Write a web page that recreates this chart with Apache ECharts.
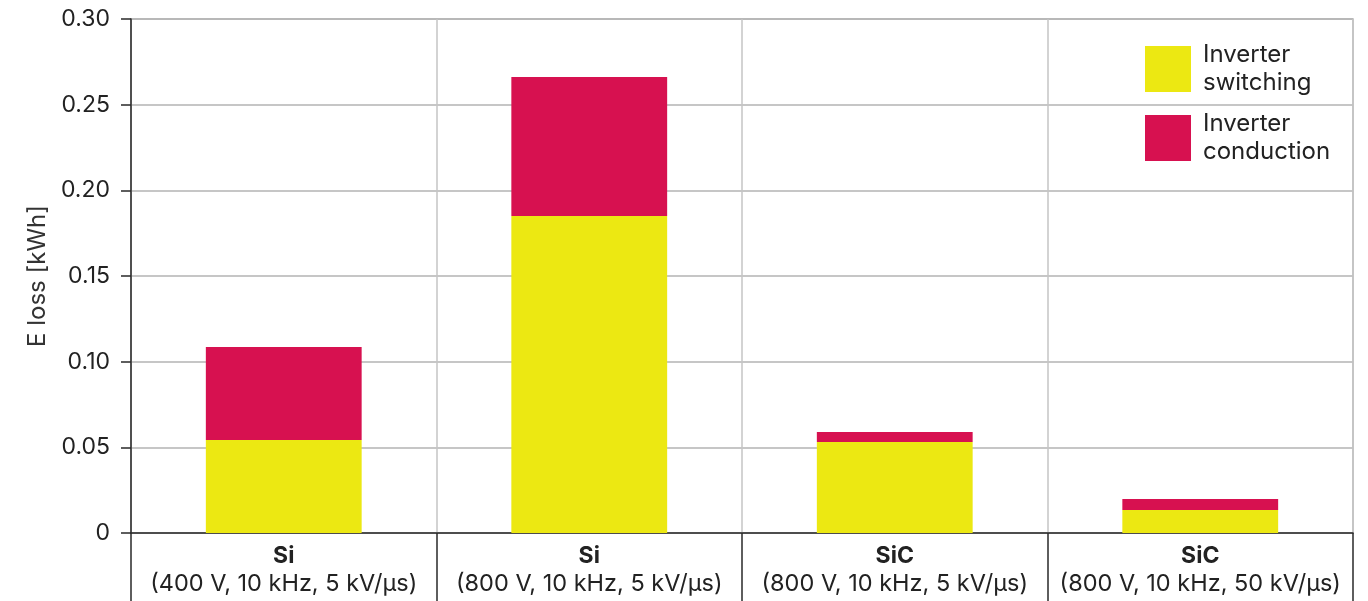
<!DOCTYPE html>
<html>
<head>
<meta charset="utf-8">
<script src="https://cdn.jsdelivr.net/npm/echarts@6/dist/echarts.min.js"></script>
<style>html,body{margin:0;padding:0;background:#fff}#c{width:1368px;height:601px}</style>
</head>
<body>
<div id="c"></div>
<script>
const categoryMain = ['Si', 'Si', 'SiC', 'SiC'];
const categorySub = ['(400 V, 10 kHz, 5 kV/µs)', '(800 V, 10 kHz, 5 kV/µs)', '(800 V, 10 kHz, 5 kV/µs)', '(800 V, 10 kHz, 50 kV/µs)'];
const switching = [0.0543, 0.185, 0.0531, 0.0134];
const conduction = [0.0543, 0.0812, 0.0059, 0.0064];
const seriesNames = ['Inverter\nswitching', 'Inverter\nconduction'];
const yTicks = ['0', '0.05', '0.10', '0.15', '0.20', '0.25', '0.30'];

const categories = categoryMain.map((m, i) => m + '|' + categorySub[i]);
const font = 'Inter, Liberation Sans, Arial, sans-serif';
const chart = echarts.init(document.getElementById('c'));
chart.setOption({
  animation: false,
  grid: { left: 131, right: 15, top: 19, bottom: 68, show: true, borderColor: '#b3b3b3', borderWidth: 1.5 },
  legend: {
    data: seriesNames,
    orient: 'vertical',
    left: 1145, top: 41, padding: 0,
    itemWidth: 46, itemHeight: 46, itemGap: 13,
    icon: 'rect',
    textStyle: { fontFamily: font, fontSize: 24, color: '#222', lineHeight: 28, padding: [0, 0, 0, 7] }
  },
  xAxis: {
    type: 'category',
    data: categories,
    axisLine: { lineStyle: { color: '#2a2a2a', width: 1.5 } },
    axisTick: { show: true, length: 75, lineStyle: { color: '#2a2a2a', width: 1.5 } },
    splitLine: { show: true, lineStyle: { color: '#c4c4c4', width: 1.5 } },
    axisLabel: {
      margin: 10,
      formatter: function (v) { const p = v.split('|'); return '{b|' + p[0] + '}\n{n|' + p[1] + '}'; },
      rich: {
        b: { fontFamily: font, fontSize: 23, fontWeight: 'bold', color: '#222', lineHeight: 27 },
        n: { fontFamily: font, fontSize: 23.5, color: '#222', lineHeight: 27 }
      }
    }
  },
  yAxis: {
    type: 'value',
    min: 0, max: 0.30, interval: 0.05,
    name: 'E loss [kWh]',
    nameLocation: 'middle',
    nameGap: 76,
    nameTextStyle: { fontFamily: font, fontSize: 24, color: '#333' },
    axisLine: { show: true, lineStyle: { color: '#2a2a2a', width: 1.5 } },
    axisTick: { show: true, length: 10, lineStyle: { color: '#2a2a2a', width: 1.5 } },
    splitLine: { lineStyle: { color: '#b3b3b3', width: 1.5 } },
    axisLabel: {
      margin: 21,
      fontFamily: font, fontSize: 23, color: '#222',
      formatter: function (v) { const i = Math.round(v / 0.05); return yTicks[i]; }
    }
  },
  series: [
    { name: seriesNames[0], type: 'bar', stack: 'a', data: switching, barWidth: '51%', itemStyle: { color: '#ECE812' } },
    { name: seriesNames[1], type: 'bar', stack: 'a', data: conduction, barWidth: '51%', itemStyle: { color: '#D71150' } }
  ]
});
</script>
</body>
</html>
